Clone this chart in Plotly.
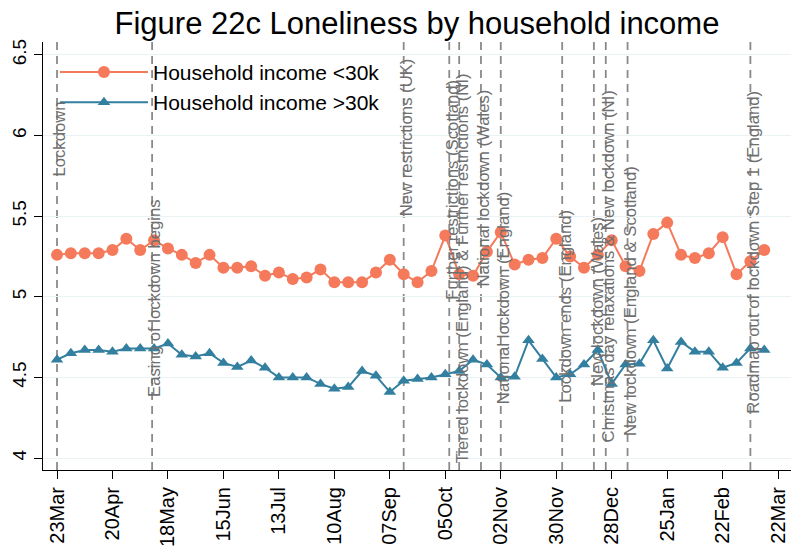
import pandas as pd
import plotly.graph_objects as go

# ---- data ----
start_date = "2020-03-23"
n_weeks = 52
dates = pd.date_range(start_date, periods=n_weeks, freq="7D")

income_low = [5.26, 5.27, 5.27, 5.27, 5.29, 5.36, 5.29, 5.35, 5.30, 5.26,
              5.21, 5.26, 5.18, 5.18, 5.19, 5.13, 5.15, 5.11, 5.12, 5.17,
              5.09, 5.09, 5.09, 5.15, 5.23, 5.14, 5.09, 5.16, 5.38, 5.14,
              5.13, 5.28, 5.40, 5.20, 5.23, 5.24, 5.36, 5.25, 5.18, 5.26,
              5.35, 5.19, 5.16, 5.39, 5.46, 5.26, 5.24, 5.27, 5.37, 5.14,
              5.22, 5.29]
income_high = [4.61, 4.65, 4.67, 4.67, 4.66, 4.68, 4.68, 4.68, 4.71, 4.64,
               4.63, 4.65, 4.59, 4.565, 4.605, 4.56, 4.50, 4.50, 4.50, 4.46,
               4.43, 4.44, 4.54, 4.51, 4.41, 4.48, 4.49, 4.50, 4.52, 4.54,
               4.61, 4.58, 4.50, 4.505, 4.73, 4.615, 4.50, 4.52, 4.58, 4.67,
               4.46, 4.58, 4.585, 4.73, 4.555, 4.72, 4.66, 4.66, 4.56, 4.59,
               4.68, 4.67]

series_names = ["Household income <30k", "Household income >30k"]

event_dates = ["2020-03-23", "2020-05-10", "2020-09-14", "2020-10-07",
               "2020-10-12", "2020-10-23", "2020-11-02", "2020-12-03",
               "2020-12-19", "2020-12-25", "2021-01-05", "2021-03-08"]
event_labels = ["Lockdown",
                "Easing of lockdown begins",
                "New restrictions (UK)",
                "Further restrictions (Scotland)",
                "Tiered lockdown (England) & Further restrictions (NI)",
                "National lockdown (Wales)",
                "National lockdown (England)",
                "Lockdown ends (England)",
                "New lockdown (Wales)",
                "Christmas day relaxations & New lockdown (NI)",
                "New lockdown (England & Scotland)",
                "Roadmap out of lockdown Step 1 (England)"]
# y value (data units) where each vertical label starts at its top
label_top = [6.22, 5.62, 6.49, 6.36, 6.40, 6.30, 5.66, 5.55, 5.51, 6.29, 5.82, 6.29]

tick_dates = pd.date_range("2020-03-23", "2021-03-22", freq="28D")
tick_text = [d.strftime("%d%b") for d in tick_dates]
y_ticks = [4, 4.5, 5, 5.5, 6, 6.5]
y_tick_text = ["4", "4.5", "5", "5.5", "6", "6.5"]

# ---- styling ----
ORANGE = "#F47A5B"
BLUE = "#337FA0"
GRAY_LINE = "#8a8a8a"
GRAY_TEXT = "#6f6f6f"
FONT = "Liberation Sans, Arial, sans-serif"

fig = go.Figure()
fig.add_trace(go.Scatter(x=dates, y=income_low, name=series_names[0],
                         mode="lines+markers",
                         line=dict(color=ORANGE, width=2),
                         marker=dict(symbol="circle", size=12, color=ORANGE)))
fig.add_trace(go.Scatter(x=dates, y=income_high, name=series_names[1],
                         mode="lines+markers",
                         line=dict(color=BLUE, width=2),
                         marker=dict(symbol="triangle-up", size=11, color=BLUE)))

for d, lab, yt in zip(event_dates, event_labels, label_top):
    fig.add_shape(type="line", xref="x", yref="paper", x0=d, x1=d, y0=0, y1=1,
                  line=dict(color=GRAY_LINE, width=1.8, dash="8px,6px"), layer="below")
    fig.add_annotation(x=d, y=yt, xref="x", yref="y", text=lab, textangle=-90,
                       showarrow=False, xanchor="center", yanchor="top", xshift=3,
                       font=dict(family=FONT, size=16.7, color=GRAY_TEXT))

x0 = pd.Timestamp("2020-03-23") - pd.Timedelta(days=7.07)
x1 = pd.Timestamp("2020-03-23") + pd.Timedelta(days=370.5)

fig.update_layout(
    width=794, height=550,
    margin=dict(l=43, r=3, t=42, b=74),
    paper_bgcolor="white", plot_bgcolor="white",
    font=dict(family=FONT, color="black"),
    title=dict(text="Figure 22c Loneliness by household income",
               x=0.5, xref="paper", y=1 - 23 / 550, yref="container",
               xanchor="center", yanchor="middle",
               font=dict(size=31, color="black", family=FONT)),
    showlegend=True,
    legend=dict(x=0.016, y=0.977, xanchor="left", yanchor="top",
                bgcolor="rgba(0,0,0,0)", font=dict(size=21, family=FONT),
                itemwidth=88, tracegroupgap=0),
    xaxis=dict(range=[x0, x1], tickvals=tick_dates, ticktext=tick_text,
               tickangle=-90, tickfont=dict(size=20), ticks="outside",
               ticklen=8, tickcolor="black", showline=True, linecolor="black",
               linewidth=1, showgrid=False, zeroline=False),
    yaxis=dict(range=[3.926, 6.58], tickvals=y_ticks, ticktext=y_tick_text,
               tickangle=-90, tickfont=dict(size=19), ticks="outside",
               ticklen=8, tickcolor="black", showline=True, linecolor="black",
               linewidth=1, showgrid=True, gridcolor="#EAF2F3", gridwidth=1,
               zeroline=False),
)

fig.write_html("out.html", config={"displayModeBar": False},
               post_script="document.body.style.margin='0';")
